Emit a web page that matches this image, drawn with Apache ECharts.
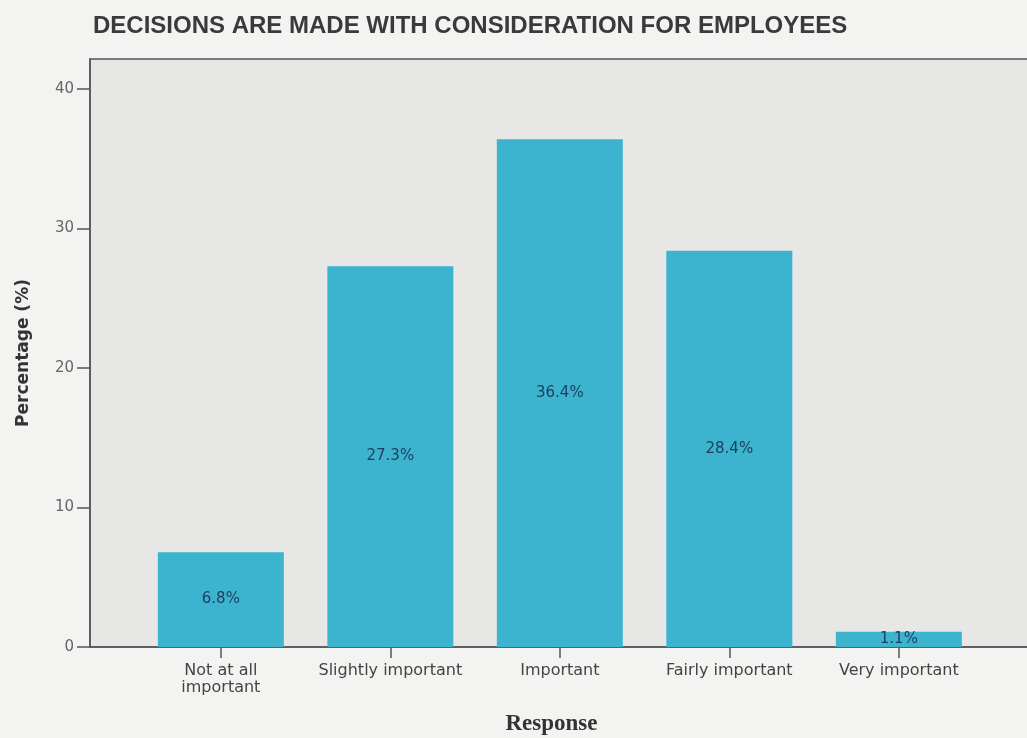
<!DOCTYPE html>
<html>
<head>
<meta charset="utf-8">
<title>Decisions are made with consideration for employees</title>
<script src="https://cdn.jsdelivr.net/npm/echarts@6/dist/echarts.min.js"></script>
<style>
  html, body { margin: 0; padding: 0; background: #f3f3f1; }
  #chart { width: 1027px; height: 738px; }
</style>
</head>
<body>
<div id="chart"></div>
<script>
// Response categories (x axis) and the share of respondents for each (%)
const categories = ['Not at all\nimportant', 'Slightly important', 'Important', 'Fairly important', 'Very important'];
const percentages = [6.8, 27.3, 36.4, 28.4, 1.1];
const yTicks = [0, 10, 20, 30, 40];

const categoryIndex = categories.map((_, i) => i);
const barData = percentages.map((v, i) => [i, v]);

const chart = echarts.init(document.getElementById('chart'));

chart.setOption({
  backgroundColor: '#f3f3f1',
  animation: false,
  title: {
    text: 'DECISIONS ARE MADE WITH CONSIDERATION FOR EMPLOYEES',
    left: 88,
    top: 9,
    textStyle: {
      fontFamily: 'Liberation Sans',
      fontWeight: 'bold',
      fontSize: 24,
      color: '#3a3a3a'
    }
  },
  grid: {
    left: 90,
    top: 59,
    right: -2,
    bottom: 91,
    outerBoundsMode: 'none',
    containLabel: false,
    show: true,
    backgroundColor: '#e7e7e6',
    borderColor: '#555',
    borderWidth: 1.5
  },
  xAxis: {
    type: 'value',
    min: -0.772,
    max: 4.768,
    name: 'Response',
    nameLocation: 'middle',
    nameGap: 66,
    nameTextStyle: {
      fontFamily: 'Liberation Serif',
      fontWeight: 'bold',
      fontSize: 23,
      color: '#333',
      padding: [0, 16, 0, 0]
    },
    axisLine: { show: true, onZero: false, lineStyle: { color: '#555', width: 1.5 } },
    axisTick: {
      show: true,
      customValues: categoryIndex,
      length: 11,
      lineStyle: { color: '#555', width: 1.5 }
    },
    axisLabel: {
      customValues: categoryIndex,
      formatter: v => categories[Math.round(v)],
      margin: 15,
      fontFamily: 'DejaVu Sans',
      fontSize: 16,
      lineHeight: 17,
      color: '#444'
    },
    splitLine: { show: false }
  },
  yAxis: {
    type: 'value',
    min: 0,
    max: 42.15,
    name: 'Percentage (%)',
    nameLocation: 'middle',
    nameGap: 58,
    nameTextStyle: {
      fontFamily: 'DejaVu Sans',
      fontWeight: 'bold',
      fontSize: 17,
      color: '#333'
    },
    axisLine: { show: true, onZero: false, lineStyle: { color: '#555', width: 1.5 } },
    axisTick: {
      show: true,
      customValues: yTicks,
      length: 13,
      lineStyle: { color: '#555', width: 1.5 }
    },
    axisLabel: {
      customValues: yTicks,
      margin: 16,
      fontFamily: 'DejaVu Sans',
      fontSize: 15,
      color: '#666'
    },
    splitLine: { show: false }
  },
  series: [{
    type: 'bar',
    data: barData,
    barWidth: 126,
    itemStyle: { color: '#3cb4cf' },
    label: {
      show: true,
      position: 'inside',
      formatter: p => p.value[1].toFixed(1) + '%',
      fontFamily: 'DejaVu Sans',
      fontSize: 15,
      color: '#1f3d5c'
    }
  }]
});
</script>
</body>
</html>
